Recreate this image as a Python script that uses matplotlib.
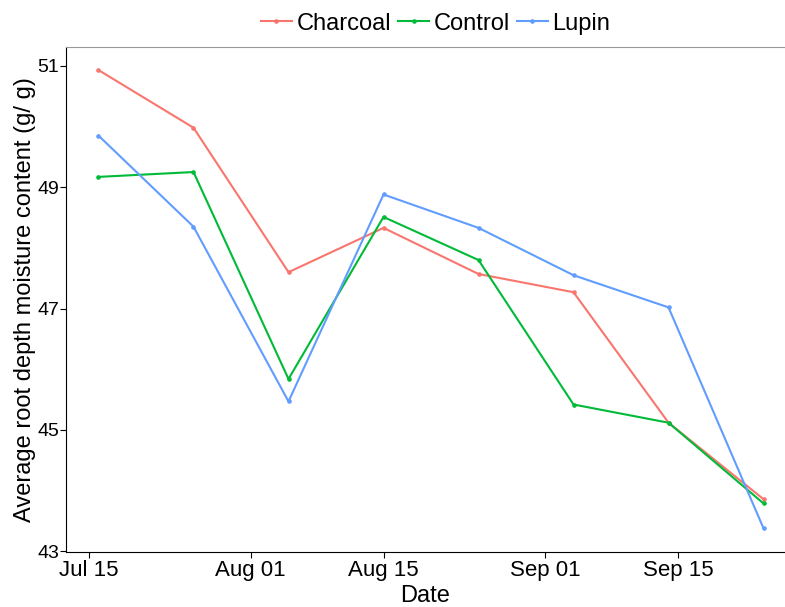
import matplotlib
matplotlib.use("Agg")
import matplotlib.pyplot as plt
import matplotlib.dates as mdates
import numpy as np
import datetime as dt

plt.rcParams['font.family'] = ['Liberation Sans', 'DejaVu Sans']

dates = ["2015-07-16", "2015-07-26", "2015-08-05", "2015-08-15",
         "2015-08-25", "2015-09-04", "2015-09-14", "2015-09-24"]
charcoal = [50.93, 49.98, 47.60, 48.33, 47.57, 47.27, 45.12, 43.86]
control = [49.17, 49.25, 45.84, 48.51, 47.80, 45.42, 45.12, 43.79]
lupin = [49.85, 48.35, 45.47, 48.88, 48.33, 47.55, 47.02, 43.38]
series_names = ["Charcoal", "Control", "Lupin"]
colors = ["#F8766D", "#00BA38", "#619CFF"]
yticks = [43, 45, 47, 49, 51]
xtick_dates = ["2015-07-15", "2015-08-01", "2015-08-15", "2015-09-01", "2015-09-15"]
xtick_labels = ["Jul 15", "Aug 01", "Aug 15", "Sep 01", "Sep 15"]

x = [dt.datetime.strptime(d, "%Y-%m-%d") for d in dates]
xt = [dt.datetime.strptime(d, "%Y-%m-%d") for d in xtick_dates]

fig = plt.figure(figsize=(7.85, 6.07), dpi=100)
ax = fig.add_axes([66/785, 1-552/607, 1-66/785, (552-47)/607])

for name, vals, c in zip(series_names, [charcoal, control, lupin], colors):
    ax.plot(x, vals, color=c, lw=1.5, marker='o', ms=2.3, label=name)

ax.set_xlim(mdates.date2num(xt[0]) - 2.42, mdates.date2num(xt[-1]) + 11.26)
ax.set_ylim(42.99, 51.31)
ax.set_yticks(yticks)
ax.set_yticklabels([str(v) for v in yticks], fontsize=14)
ax.set_xticks(xt)
ax.set_xticklabels(xtick_labels, fontsize=16)
ax.tick_params(axis='both', direction='out', length=4, width=0.8, color='black', pad=2)
ax.tick_params(axis='y', pad=1)

ax.spines['right'].set_visible(False)
ax.spines['top'].set_color('#999999')
ax.spines['left'].set_color('black')
ax.spines['bottom'].set_color('black')
ax.grid(False)

ax.set_xlabel("Date", fontsize=17, labelpad=3)
ax.set_ylabel("Average root depth moisture content (g/ g)", fontsize=17, labelpad=1)

handles, labels = ax.get_legend_handles_labels()
fig.legend(handles, labels, loc='center', bbox_to_anchor=(0.555, 0.961), ncol=3,
           frameon=False, fontsize=17, handlelength=1.3, handletextpad=0.2,
           columnspacing=0.3, borderaxespad=0, numpoints=1)

fig.savefig("out.png", dpi=100)
